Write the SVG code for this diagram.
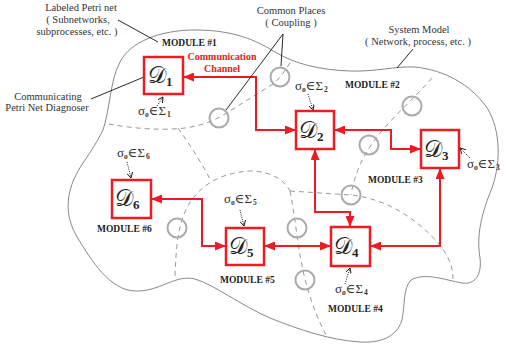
<svg xmlns="http://www.w3.org/2000/svg" width="505" height="350" viewBox="0 0 505 350">
<style>
.ann{font-family:"Liberation Serif",serif;font-size:10.5px;fill:#333}
.mod{font-family:"Liberation Serif",serif;font-size:9.5px;font-weight:bold;fill:#222}
.red{font-family:"Liberation Serif",serif;font-size:10px;font-weight:bold;fill:#ed1c24}
.sig{font-family:"Liberation Serif","DejaVu Serif",serif;font-size:13px;fill:#333}
.sb{font-size:7.5px;font-weight:bold}
.dl{font-family:"DejaVu Serif","Liberation Serif",serif;font-size:23px;fill:#222}
.dsub{font-family:"Liberation Serif",serif;font-size:13px;font-weight:bold}
.box{fill:#fff;stroke:#ed1c24;stroke-width:2.5}
.ch{fill:none;stroke:#ed1c24;stroke-width:2;marker-start:url(#ah);marker-end:url(#ah)}
.dash{fill:none;stroke:#999;stroke-width:1;stroke-dasharray:5,4}
.outer{fill:none;stroke:#888;stroke-width:1}
.cp{fill:none;stroke:#aaa;stroke-width:2}
.lead{fill:none;stroke:#111;stroke-width:0.9}
.dot{fill:none;stroke:#111;stroke-width:1;stroke-dasharray:1,1.3;marker-end:url(#oa)}
</style>
<defs>
<marker id="ah" viewBox="0 0 11 9" refX="11" refY="4.5" markerWidth="11" markerHeight="9" markerUnits="userSpaceOnUse" orient="auto-start-reverse">
<path d="M0,0 L11,4.5 L0,9 z" fill="#ed1c24"/>
</marker>
<marker id="oa" viewBox="0 0 6 6" refX="5.5" refY="3" markerWidth="6" markerHeight="6" markerUnits="userSpaceOnUse" orient="auto">
<path d="M0,0 L5.5,3 L0,6" fill="none" stroke="#111" stroke-width="0.9"/>
</marker>
</defs>
<rect width="505" height="350" fill="#fff"/>

<g id="system-model">
<path class="outer" d="M103,130 C110,110 110,80 120,62 C130,42 160,30 195,30 C225,30 250,36 275,52 C295,64 320,70 350,71 C375,72 395,66 415,67 C445,70 470,85 485,105 C500,125 502,160 492,188 C482,212 476,235 480,258 C482,275 475,285 462,283 C445,280 425,272 411,280 C403,288 405,305 402,320 C396,338 380,343 360,342 C330,340 300,330 270,318 C240,305 215,285 195,279 C175,274 160,292 135,291 C110,290 92,262 76,235 C62,210 68,185 83,163 C92,150 98,140 103,130 Z"/>
</g>

<g id="module-boundaries">
<path class="dash" d="M109,124 C130,128 160,131 185,128 C205,125 215,120 225,114 L273,84 C280,78 286,70 291,61"/>
<path class="dash" d="M178,128 C190,145 203,165 211,181"/>
<path class="dash" d="M175,276 C176,252 177,232 184,214 C194,190 215,173 250,171 C272,171 285,181 290,191"/>
<path class="dash" d="M290,191 C295,215 298,250 304,275 C310,300 318,320 327,337"/>
<path class="dash" d="M290,191 L351,195 C388,199 418,220 438,243 C449,256 453,267 453,279"/>
<path class="dash" d="M432,78 C400,115 360,140 351,195"/>
</g>

<g id="common-places">
<circle class="cp" cx="219" cy="118" r="9.5"/>
<circle class="cp" cx="280" cy="77" r="9.5"/>
<circle class="cp" cx="412" cy="106" r="9.5"/>
<circle class="cp" cx="369" cy="145" r="9.5"/>
<circle class="cp" cx="351" cy="195" r="9.5"/>
<circle class="cp" cx="297" cy="228" r="9.5"/>
<circle class="cp" cx="177" cy="228" r="9.5"/>
<circle class="cp" cx="305" cy="280" r="9.5"/>
</g>

<g id="connectors">
<path class="ch" d="M183,77 L256,77 L256,130 L296,130"/>
<path class="ch" d="M334,130 L391,130 L391,149 L421,149"/>
<path class="ch" d="M315,149 L315,212 L350,212 L350,227"/>
<path class="ch" d="M440,168 L440,246 L370,246"/>
<path class="ch" d="M264,246 L331,246"/>
<path class="ch" d="M151,199 L202,199 L202,246 L226,246"/>
</g>

<g id="leaders">
<path class="lead" d="M118,20 L158,42"/>
<path class="lead" d="M91,99 L144,77"/>
<path class="lead" d="M281,66 L283,34 L226,110"/>
<path class="lead" d="M413,49 L397,68"/>
<path class="dot" d="M157,106 L163,97"/>
<path class="dot" d="M308,94 L313,110"/>
<path class="dot" d="M470,158 L460,148"/>
<path class="dot" d="M127,162 L131,178"/>
<path class="dot" d="M240,210 L244,226"/>
<path class="dot" d="M345,284 L350,268"/>
</g>

<g id="D1"><rect class="box" x="144" y="57" width="39" height="37"/><text class="dl" x="148" y="83">𝒟<tspan class="dsub" dy="3">1</tspan></text></g>
<g id="D2"><rect class="box" x="296" y="111" width="38" height="38"/><text class="dl" x="299" y="138">𝒟<tspan class="dsub" dy="3" font-weight="normal">2</tspan></text></g>
<g id="D3"><rect class="box" x="421" y="130" width="38" height="38"/><text class="dl" x="424" y="157">𝒟<tspan class="dsub" dy="3" font-weight="normal">3</tspan></text></g>
<g id="D4"><rect class="box" x="331" y="227" width="39" height="39"/><text class="dl" x="334" y="254">𝒟<tspan class="dsub" dy="3" font-weight="normal">4</tspan></text></g>
<g id="D5"><rect class="box" x="226" y="228" width="38" height="37"/><text class="dl" x="229" y="254">𝒟<tspan class="dsub" dy="3">5</tspan></text></g>
<g id="D6"><rect class="box" x="112" y="180" width="39" height="38"/><text class="dl" x="115" y="206">𝒟<tspan class="dsub" dy="3">6</tspan></text></g>

<g id="labels">
<text class="ann" x="81" y="11" text-anchor="middle">Labeled Petri net</text>
<text class="ann" x="78" y="23" text-anchor="middle">( Subnetworks,</text>
<text class="ann" x="77" y="35" text-anchor="middle">subprocesses, etc. )</text>
<text class="ann" x="48" y="100" text-anchor="middle">Communicating</text>
<text class="ann" x="47" y="111" text-anchor="middle">Petri Net Diagnoser</text>
<text class="ann" x="291" y="14" text-anchor="middle">Common Places</text>
<text class="ann" x="291" y="26" text-anchor="middle">( Coupling )</text>
<text class="ann" x="419" y="33" text-anchor="middle">System Model</text>
<text class="ann" x="418" y="45" text-anchor="middle">( Network, process, etc. )</text>
<text class="red" x="222" y="60" text-anchor="middle">Communication</text>
<text class="red" x="222" y="72" text-anchor="middle">Channel</text>
<text class="mod" x="162" y="46">MODULE #1</text>
<text class="mod" x="345" y="88">MODULE #2</text>
<text class="mod" x="368" y="183">MODULE #3</text>
<text class="mod" x="328" y="312">MODULE #4</text>
<text class="mod" x="220" y="283">MODULE #5</text>
<text class="mod" x="97" y="232">MODULE #6</text>
<text class="sig" x="138" y="115">σ<tspan class="sb" dy="2">o</tspan><tspan dy="-2">∈Σ</tspan><tspan class="sb" dx="1" dy="2">1</tspan></text>
<text class="sig" x="295" y="90">σ<tspan class="sb" dy="2">o</tspan><tspan dy="-2">∈Σ</tspan><tspan class="sb" dx="1" dy="2">2</tspan></text>
<text class="sig" x="467" y="168">σ<tspan class="sb" dy="2">o</tspan><tspan dy="-2">∈Σ</tspan><tspan class="sb" dx="1" dy="2">3</tspan></text>
<text class="sig" x="335" y="293">σ<tspan class="sb" dy="2">o</tspan><tspan dy="-2">∈Σ</tspan><tspan class="sb" dx="1" dy="2">4</tspan></text>
<text class="sig" x="224" y="203">σ<tspan class="sb" dy="2">o</tspan><tspan dy="-2">∈Σ</tspan><tspan class="sb" dx="1" dy="2">5</tspan></text>
<text class="sig" x="117" y="157">σ<tspan class="sb" dy="2">o</tspan><tspan dy="-2">∈Σ</tspan><tspan class="sb" dx="1" dy="2">6</tspan></text>
</g>
</svg>
